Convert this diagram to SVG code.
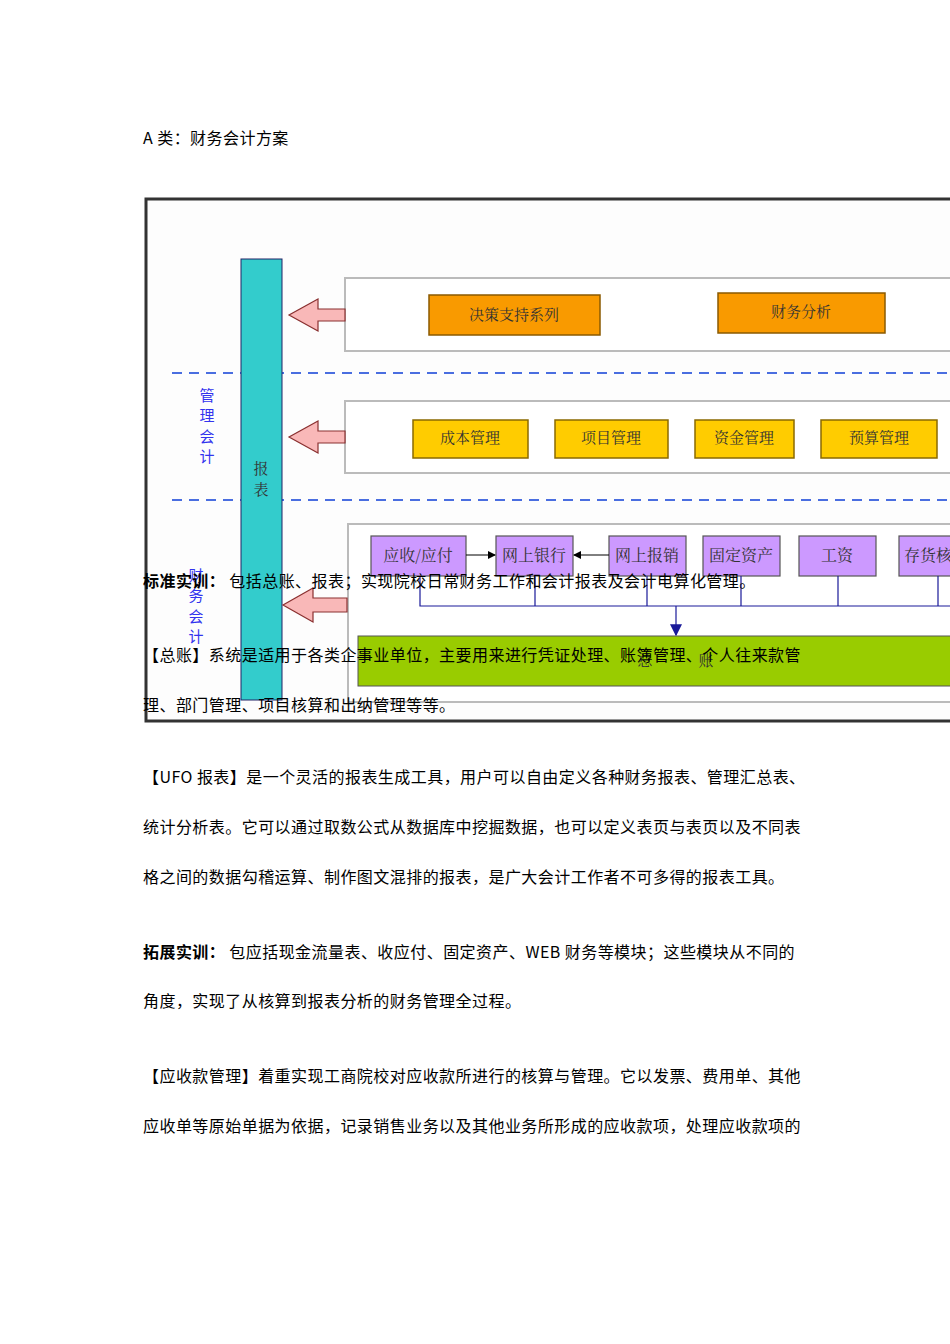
<svg xmlns="http://www.w3.org/2000/svg" width="950" height="1344" viewBox="0 0 950 1344">
<style>
.b{font-family:"Noto Sans CJK SC","Noto Sans",sans-serif;font-size:16px;letter-spacing:0.45px;fill:#000}
.bx{font-family:"Noto Serif CJK SC","Noto Sans CJK SC",serif;font-size:15px;text-anchor:middle;fill:#333}
.p .bx,.pt{font-size:16px}
.o{fill:#f99a00;stroke:#8a5a00;stroke-width:1.5}
.y{fill:#ffcc00;stroke:#8a6a00;stroke-width:1.5}
.p{fill:#cc99ff;stroke:#555;stroke-width:1.2}
.pa{fill:#f9b8b8;stroke:#8a3030;stroke-width:1.2}
.lane{fill:#fff;stroke:#bbb;stroke-width:2}
.d{stroke:#4a6ee0;stroke-width:2;stroke-dasharray:10,7}
.vl{font-family:"Noto Sans CJK SC",sans-serif;font-size:15px;fill:#3333ee;text-anchor:middle}
.c{stroke:#1a1a99;stroke-width:1.2;fill:none}
</style>
<defs>
<marker id="ah" markerWidth="8" markerHeight="8" refX="7" refY="4" orient="auto"><path d="M0,0L8,4L0,8z" fill="#000"/></marker>
<marker id="ab" markerWidth="10" markerHeight="14" refX="9" refY="7" orient="auto"><path d="M0,2L10,7L0,12z" fill="#1a1a99"/></marker>
</defs>
<rect width="950" height="1344" fill="#fff"/>
<text class="b" x="143" y="144">A 类：财务会计方案</text>
<g id="frame"><rect x="146" y="199" width="820" height="522" fill="#fdfdfd" stroke="#333" stroke-width="3"/></g>
<line class="d" x1="172" y1="373" x2="950" y2="373"/>
<line class="d" x1="172" y1="500" x2="950" y2="500"/>
<rect class="lane" x="345" y="278" width="620" height="73"/>
<rect class="lane" x="345" y="401" width="620" height="72"/>
<rect class="lane" x="348" y="524" width="620" height="178"/>
<g id="report"><rect x="241" y="259" width="41" height="441" fill="#33cccc" stroke="#226"/>
<text class="bx" x="261" y="474" font-size="16">报</text><text class="bx" x="261" y="495" font-size="16">表</text></g>
<text class="vl" x="207" y="401">管</text><text class="vl" x="207" y="421">理</text><text class="vl" x="207" y="442">会</text><text class="vl" x="207" y="462">计</text>
<text class="vl" x="196" y="581">财</text><text class="vl" x="196" y="601">务</text><text class="vl" x="196" y="622">会</text><text class="vl" x="196" y="642">计</text>
<g id="arrows">
<path class="pa" d="M345,309H318V299L289,315L318,331V321H345z"/>
<path class="pa" d="M345,431H318V421L289,437L318,453V443H345z"/>
<path class="pa" d="M347,598H313V588L283,605L313,622V612H347z"/>
</g>
<g id="n1"><rect class="o" x="429" y="295" width="171" height="40"/><text class="bx" x="514" y="320">决策支持系列</text></g>
<g id="n2"><rect class="o" x="718" y="293" width="167" height="40"/><text class="bx" x="801" y="317">财务分析</text></g>
<g id="n3"><rect class="y" x="413" y="420" width="115" height="38"/><text class="bx" x="470" y="443">成本管理</text></g>
<g id="n4"><rect class="y" x="555" y="420" width="113" height="38"/><text class="bx" x="611" y="443">项目管理</text></g>
<g id="n5"><rect class="y" x="695" y="420" width="99" height="38"/><text class="bx" x="744" y="443">资金管理</text></g>
<g id="n6"><rect class="y" x="821" y="420" width="116" height="38"/><text class="bx" x="879" y="443">预算管理</text></g>
<g id="n7"><rect class="p" x="371" y="536" width="95" height="40"/><text class="bx pt" x="418" y="561">应收/应付</text></g>
<g id="n8"><rect class="p" x="496" y="536" width="77" height="40"/><text class="bx pt" x="534" y="561">网上银行</text></g>
<g id="n9"><rect class="p" x="609" y="536" width="77" height="40"/><text class="bx pt" x="647" y="561">网上报销</text></g>
<g id="n10"><rect class="p" x="703" y="536" width="77" height="40"/><text class="bx pt" x="741" y="561">固定资产</text></g>
<g id="n11"><rect class="p" x="799" y="536" width="77" height="40"/><text class="bx pt" x="837" y="561">工资</text></g>
<g id="n12"><rect class="p" x="899" y="536" width="77" height="40"/><text class="bx pt" x="904" y="561" style="text-anchor:start">存货核算</text></g>
<g id="n13"><rect x="358" y="636" width="610" height="50" fill="#99cc00" stroke="#555"/><text class="bx" x="645" y="666" fill="#5a7a00">总</text><text class="bx" x="706" y="666" fill="#5a7a00">账</text></g>
<g id="connectors">
<line x1="466" y1="555" x2="495" y2="555" stroke="#000" marker-end="url(#ah)"/>
<line x1="609" y1="555" x2="574" y2="555" stroke="#000" marker-end="url(#ah)"/>
<path class="c" d="M420,576V606H950M535,576V606M647,576V606M741,576V606M838,576V606M938,576V606"/>
<line class="c" x1="676" y1="606" x2="676" y2="635" marker-end="url(#ab)"/>
</g>
<g id="body">
<text class="b" x="143" y="587"><tspan font-weight="bold">标准实训：</tspan> 包括总账、报表；实现院校日常财务工作和会计报表及会计电算化管理。</text>
<text class="b" x="143" y="661">【总账】系统是适用于各类企事业单位，主要用来进行凭证处理、账簿管理、个人往来款管</text>
<text class="b" x="143" y="711">理、部门管理、项目核算和出纳管理等等。</text>
<text class="b" x="143" y="783">【UFO 报表】是一个灵活的报表生成工具，用户可以自由定义各种财务报表、管理汇总表、</text>
<text class="b" x="143" y="833">统计分析表。它可以通过取数公式从数据库中挖掘数据，也可以定义表页与表页以及不同表</text>
<text class="b" x="143" y="883">格之间的数据勾稽运算、制作图文混排的报表，是广大会计工作者不可多得的报表工具。</text>
<text class="b" x="143" y="958"><tspan font-weight="bold">拓展实训：</tspan> 包应括现金流量表、收应付、固定资产、WEB 财务等模块；这些模块从不同的</text>
<text class="b" x="143" y="1007">角度，实现了从核算到报表分析的财务管理全过程。</text>
<text class="b" x="143" y="1082">【应收款管理】着重实现工商院校对应收款所进行的核算与管理。它以发票、费用单、其他</text>
<text class="b" x="143" y="1132">应收单等原始单据为依据，记录销售业务以及其他业务所形成的应收款项，处理应收款项的</text>
</g>
</svg>
